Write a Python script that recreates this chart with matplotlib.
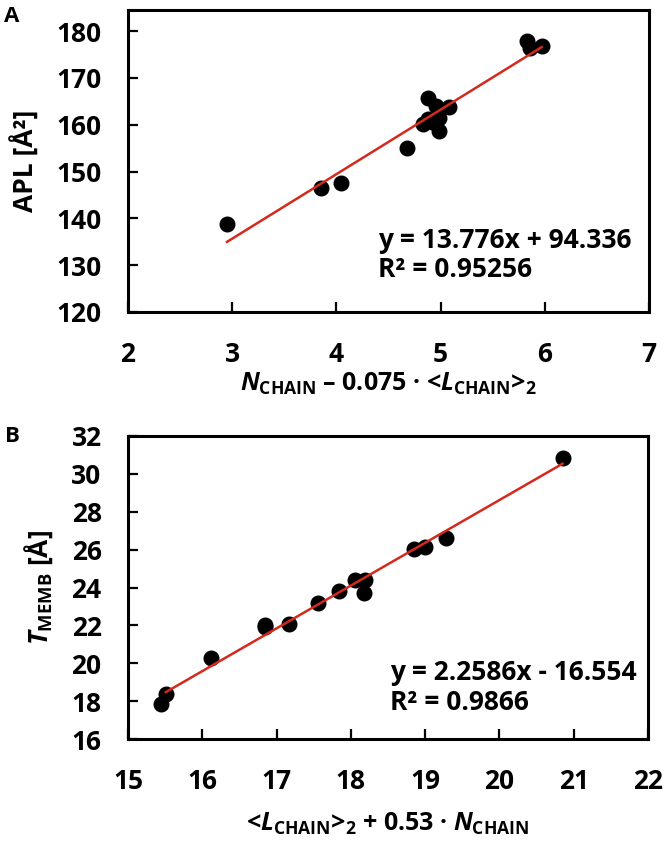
import matplotlib
matplotlib.use("Agg")
import matplotlib.pyplot as plt
import numpy as np

plt.rcParams['font.family'] = ['Open Sans', 'DejaVu Sans']
plt.rcParams['font.weight'] = 'bold'
plt.rcParams['mathtext.fontset'] = 'custom'
plt.rcParams['mathtext.rm'] = 'Open Sans:bold'
plt.rcParams['mathtext.it'] = 'Open Sans:bold:italic'
plt.rcParams['mathtext.bf'] = 'Open Sans:bold'

# Panel A data
a_x = [2.95, 3.85, 4.04, 4.68, 4.88, 4.96, 5.08, 4.83, 4.88, 4.98, 4.92, 4.98, 5.83, 5.86, 5.97]
a_y = [138.7, 146.5, 147.5, 155.0, 165.6, 163.9, 163.7, 160.2, 161.3, 161.5, 160.6, 158.7, 177.8, 176.3, 176.8]
a_slope, a_icpt = 13.776, 94.336
a_xticks = [2, 3, 4, 5, 6, 7]
a_yticks = [120, 130, 140, 150, 160, 170, 180]

# Panel B data
b_x = [15.44, 15.51, 16.12, 16.84, 16.85, 17.17, 17.56, 17.84, 18.05, 18.19, 18.18, 18.85, 19.0, 19.28, 20.85]
b_y = [17.85, 18.4, 20.3, 21.9, 22.0, 22.05, 23.2, 23.8, 24.4, 24.37, 23.7, 26.05, 26.15, 26.6, 30.85]
b_slope, b_icpt = 2.2586, -16.554
b_xticks = [15, 16, 17, 18, 19, 20, 21, 22]
b_yticks = [16, 18, 20, 22, 24, 26, 28, 30, 32]

W, H = 664, 843
fig = plt.figure(figsize=(W/100, H/100), dpi=100)

FS = 19

def style(ax):
    for s in ax.spines.values():
        s.set_linewidth(2.2)
    ax.tick_params(direction='in', length=7, width=1.6, labelsize=FS)
    ax.tick_params(axis='x', pad=21)
    ax.tick_params(axis='y', pad=19)
    for lab in ax.get_xticklabels() + ax.get_yticklabels():
        lab.set_fontweight('bold')

red = '#d42a1e'

# Panel A
axA = fig.add_axes([128/W, 1-312/H, (649-128)/W, (312-10)/H])
axA.plot(a_x, a_y, 'o', color='black', markersize=10.5, zorder=3)
xa = np.array([min(a_x), max(a_x)])
axA.plot(xa, a_slope*xa + a_icpt, color=red, lw=1.8, zorder=4)
axA.set_xlim(2, 7)
axA.set_ylim(120, 184.5)
axA.set_xticks(a_xticks)
axA.set_yticks(a_yticks)
style(axA)
axA.text(0.48, 0.238, 'y = 13.776x + 94.336', transform=axA.transAxes, fontsize=FS, fontweight='bold', va='center', ha='left')
axA.text(0.48, 0.142, 'R² = 0.95256', transform=axA.transAxes, fontsize=FS, fontweight='bold', va='center', ha='left')
axA.set_xlabel(r'$\mathit{N}_{\mathrm{CHAIN}}$ – 0.075 · <$\mathit{L}_{\mathrm{CHAIN}}$>$_{2}$', fontsize=18, fontweight='bold', labelpad=2)
axA.set_ylabel('APL [Å²]', fontsize=19, fontweight='bold', labelpad=12)

# Panel B
axB = fig.add_axes([128/W, 1-739/H, (648-128)/W, (739-436)/H])
axB.plot(b_x, b_y, 'o', color='black', markersize=10.5, zorder=3)
xb = np.array([15.51, max(b_x)])
axB.plot(xb, b_slope*xb + b_icpt, color=red, lw=1.8, zorder=4)
axB.set_xlim(15, 22)
axB.set_ylim(16, 32)
axB.set_xticks(b_xticks)
axB.set_yticks(b_yticks)
style(axB)
axB.text(0.504, 0.221, 'y = 2.2586x - 16.554', transform=axB.transAxes, fontsize=FS, fontweight='bold', va='center', ha='left')
axB.text(0.504, 0.119, 'R² = 0.9866', transform=axB.transAxes, fontsize=FS, fontweight='bold', va='center', ha='left')
axB.set_xlabel(r'<$\mathit{L}_{\mathrm{CHAIN}}$>$_{2}$ + 0.53 · $\mathit{N}_{\mathrm{CHAIN}}$', fontsize=18, fontweight='bold', labelpad=11)
axB.set_ylabel(r'$\mathit{T}_{\mathrm{MEMB}}$ [Å]', fontsize=19, fontweight='bold', labelpad=12)

fig.text(12/W, 1-17/H, 'A', fontsize=16, fontweight='bold', va='center', ha='center')
fig.text(12/W, 1-437/H, 'B', fontsize=16, fontweight='bold', va='center', ha='center')

fig.savefig('out.png', dpi=100)
